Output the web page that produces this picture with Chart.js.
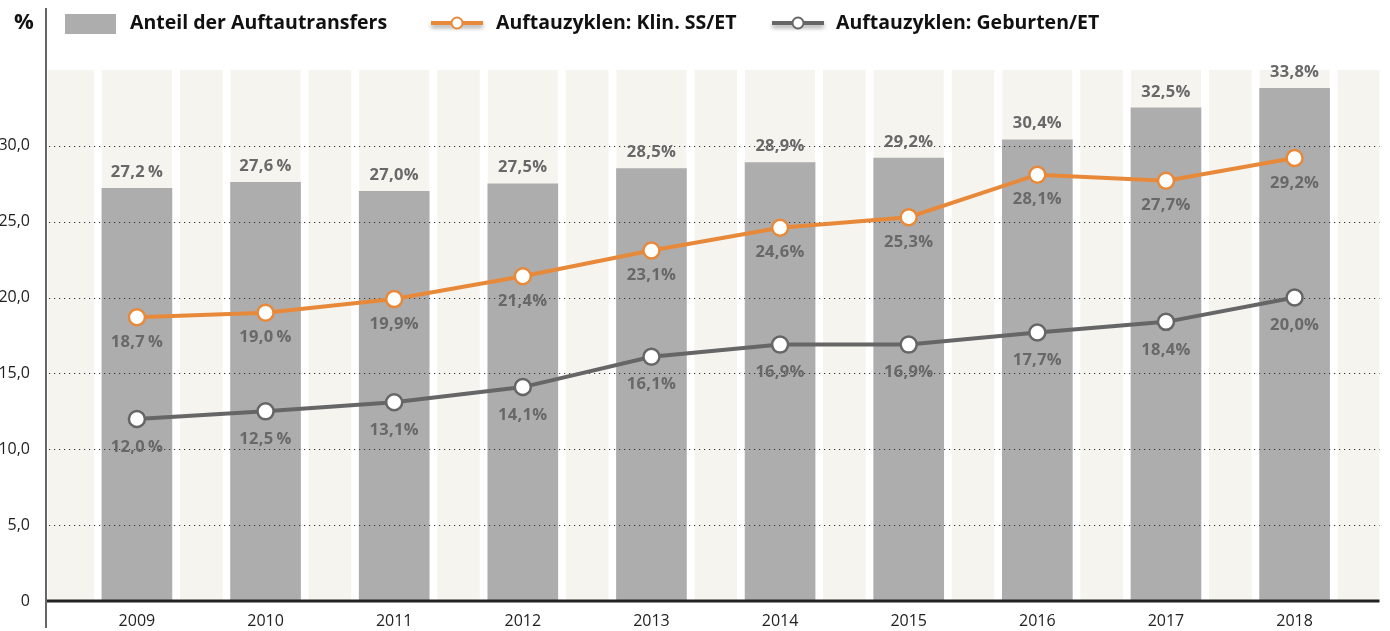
<!DOCTYPE html>
<html><head><meta charset="utf-8">
<script src="https://cdn.jsdelivr.net/npm/chart.js@4.4.1/dist/chart.umd.min.js"></script>
<style>html,body{margin:0;padding:0;background:#fff}#wrap{width:1390px;height:631px;position:relative}</style>
</head><body><div id="wrap"><canvas id="c" width="1390" height="631"></canvas></div>
<script>
const years = ['2009','2010','2011','2012','2013','2014','2015','2016','2017','2018'];
const transfers = [27.2,27.6,27.0,27.5,28.5,28.9,29.2,30.4,32.5,33.8];
const klinSS = [18.7,19.0,19.9,21.4,23.1,24.6,25.3,28.1,27.7,29.2];
const geburten = [12.0,12.5,13.1,14.1,16.1,16.9,16.9,17.7,18.4,20.0];
const yTicks = [0,5,10,15,20,25,30];
const barLabels = ['27,2\u2009%','27,6\u2009%','27,0%','27,5%','28,5%','28,9%','29,2%','30,4%','32,5%','33,8%'];
const klinLabels = ['18,7\u2009%','19,0\u2009%','19,9%','21,4%','23,1%','24,6%','25,3%','28,1%','27,7%','29,2%'];
const gebLabels = ['12,0\u2009%','12,5\u2009%','13,1%','14,1%','16,1%','16,9%','16,9%','17,7%','18,4%','20,0%'];
const seriesNames = ['Anteil der Auftautransfers','Auftauzyklen: Klin. SS/ET','Auftauzyklen: Geburten/ET'];

const FONT = '"Open Sans", Lato, sans-serif';
const ORANGE = '#E8893A', DGREY = '#666666', BAR = '#ADADAD', BEIGE = '#F5F4EF';

const bgPlugin = {
  id: 'bg',
  beforeDatasetsDraw(chart) {
    const {ctx, chartArea: a, scales: {x, y}} = chart;
    ctx.save();
    const top = y.getPixelForValue(35), bot = y.getPixelForValue(0);
    ctx.fillStyle = BEIGE;
    ctx.fillRect(a.left + 1, top, a.right - a.left - 1, bot - top);
    ctx.fillStyle = '#ffffff';
    years.forEach((_, i) => {
      const cx = x.getPixelForValue(i);
      ctx.fillRect(cx - 43, top, 8, bot - top);
      ctx.fillRect(cx + 35, top, 8, bot - top);
    });
    ctx.restore();
  },
  afterDatasetDraw(chart, args) {
    if (args.index !== 0) return;
    const {ctx, chartArea: a, scales: {y}} = chart;
    ctx.save();
    ctx.strokeStyle = '#333';
    ctx.lineWidth = 1.2;
    ctx.setLineDash([1.2, 3.8]);
    yTicks.filter(t => t > 0).forEach(t => {
      const py = Math.round(y.getPixelForValue(t)) + 0.5;
      ctx.beginPath(); ctx.moveTo(a.left + 2, py); ctx.lineTo(a.right, py); ctx.stroke();
    });
    ctx.setLineDash([]);
    ctx.restore();
  },
  afterDatasetsDraw(chart) {
    const {ctx, chartArea: a, scales: {y}} = chart;
    ctx.save();
    ctx.strokeStyle = '#222'; ctx.lineWidth = 3;
    const zy = y.getPixelForValue(0);
    ctx.beginPath(); ctx.moveTo(a.left - 1, zy); ctx.lineTo(a.right, zy); ctx.stroke();
    ctx.strokeStyle = '#666'; ctx.lineWidth = 2;
    ctx.beginPath(); ctx.moveTo(a.left - 1, 8); ctx.lineTo(a.left - 1, 628); ctx.stroke();
    ctx.font = 'bold 16.5px ' + FONT;
    ctx.letterSpacing = '0.3px';
    ctx.fillStyle = '#686868';
    ctx.textAlign = 'center'; ctx.textBaseline = 'middle';
    chart.getDatasetMeta(0).data.forEach((el, i) => {
      ctx.fillText(barLabels[i], el.x, el.y - 16);
    });
    chart.getDatasetMeta(1).data.forEach((el, i) => {
      ctx.fillText(klinLabels[i], el.x, el.y + 25);
    });
    chart.getDatasetMeta(2).data.forEach((el, i) => {
      ctx.fillText(gebLabels[i], el.x, el.y + 28);
    });
    ctx.letterSpacing = '0px';
    ctx.fillStyle = '#111'; ctx.textAlign = 'left';
    ctx.font = 'bold 22px ' + FONT;
    ctx.fillText('%', 14, 23);
    ctx.fillStyle = BAR; ctx.fillRect(65, 14, 51, 20);
    ctx.font = 'bold 19.5px ' + FONT; ctx.fillStyle = '#111';
    ctx.fillText(seriesNames[0], 130, 23);
    const leg = (x0, tx, col, text) => {
      ctx.save();
      ctx.shadowColor = 'rgba(0,0,0,0.35)'; ctx.shadowBlur = 4; ctx.shadowOffsetY = 3;
      ctx.strokeStyle = col; ctx.lineWidth = 4;
      ctx.beginPath(); ctx.moveTo(x0, 23); ctx.lineTo(x0 + 52, 23); ctx.stroke();
      ctx.restore();
      ctx.beginPath(); ctx.arc(x0 + 26, 23, 5.5, 0, Math.PI * 2);
      ctx.fillStyle = '#fff'; ctx.fill();
      ctx.strokeStyle = col; ctx.lineWidth = 2; ctx.stroke();
      ctx.fillStyle = '#111'; ctx.fillText(text, tx, 23);
    };
    leg(431, 496, ORANGE, seriesNames[1]);
    leg(772, 836, DGREY, seriesNames[2]);
    ctx.restore();
  }
};

new Chart(document.getElementById('c'), {
  data: {
    datasets: [
      { type: 'bar', label: seriesNames[0], data: years.map((_, i) => ({x: i, y: transfers[i]})),
        backgroundColor: BAR, barThickness: 70, order: 3 },
      { type: 'line', label: seriesNames[1], data: years.map((_, i) => ({x: i, y: klinSS[i]})),
        borderColor: ORANGE, borderWidth: 4, pointRadius: 8, pointBorderWidth: 2.5,
        pointBackgroundColor: '#fff', pointBorderColor: ORANGE, tension: 0, order: 2 },
      { type: 'line', label: seriesNames[2], data: years.map((_, i) => ({x: i, y: geburten[i]})),
        borderColor: DGREY, borderWidth: 4, pointRadius: 8, pointBorderWidth: 2.5,
        pointBackgroundColor: '#fff', pointBorderColor: DGREY, tension: 0, order: 1 }
    ]
  },
  options: {
    responsive: false, animation: false,
    layout: { padding: { top: 70, right: 9, left: 0, bottom: 0 } },
    plugins: { legend: { display: false }, tooltip: { enabled: false } },
    scales: {
      x: { type: 'linear', min: -0.699, max: 9.66, offset: false,
        grid: { display: false }, border: { display: false },
        afterBuildTicks: s => { s.ticks = years.map((_, i) => ({ value: i })); },
        afterFit: s => { s.height = 30; },
        ticks: { callback: v => years[v], color: '#222', font: { family: FONT, size: 16 }, padding: 3, maxRotation: 0, autoSkip: false }
      },
      y: { min: 0, max: 35,
        grid: { display: false }, border: { display: false },
        afterBuildTicks: s => { s.ticks = yTicks.map(v => ({ value: v })); },
        afterFit: s => { s.width = 47; },
        ticks: { callback: v => v === 0 ? '0' : v.toFixed(1).replace('.', ','), color: '#222', font: { family: FONT, size: 16 }, padding: 9 }
      }
    }
  },
  plugins: [bgPlugin]
});
</script></body></html>
